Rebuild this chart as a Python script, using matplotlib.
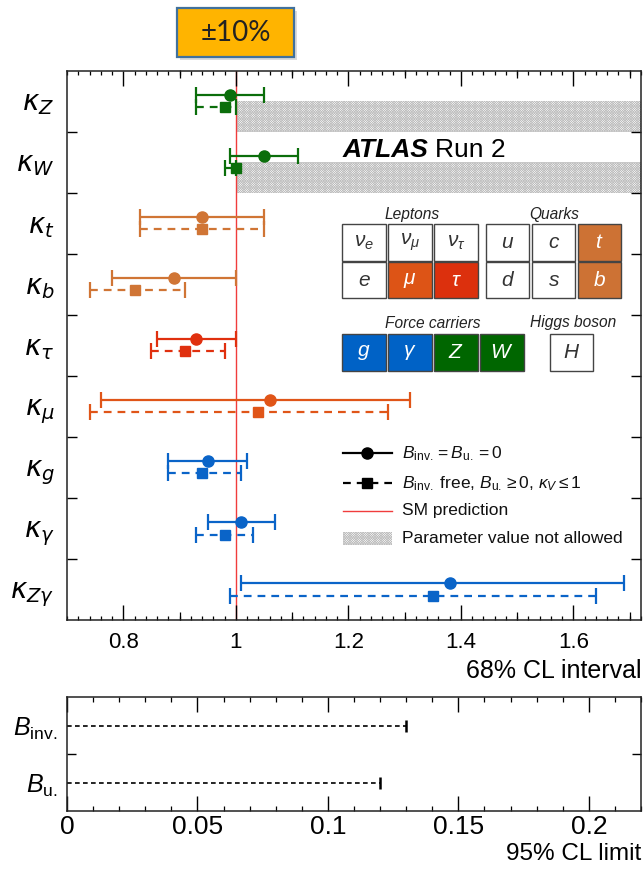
import numpy as np
import matplotlib.pyplot as plt
from matplotlib.patches import Rectangle
from matplotlib.lines import Line2D
from matplotlib.ticker import MultipleLocator, FuncFormatter

plt.rcParams['font.family'] = ['Liberation Sans', 'DejaVu Sans']
plt.rcParams['mathtext.fontset'] = 'custom'
plt.rcParams['mathtext.rm'] = 'Liberation Sans'
plt.rcParams['mathtext.it'] = 'Liberation Sans:italic'
plt.rcParams['mathtext.bf'] = 'Liberation Sans:bold'
plt.rcParams['hatch.linewidth'] = 0.5

# coupling modifiers, top to bottom
couplings = [r'$\kappa_{Z}$', r'$\kappa_{W}$', r'$\kappa_{t}$', r'$\kappa_{b}$',
             r'$\kappa_{\tau}$', r'$\kappa_{\mu}$', r'$\kappa_{g}$',
             r'$\kappa_{\gamma}$', r'$\kappa_{Z\gamma}$']
colors = ['#0b6e0b', '#0b6e0b', '#d07535', '#d07535', '#e0300f',
          '#e05518', '#0a64c8', '#0a64c8', '#0a64c8']

# fit with B_inv = B_u = 0 (68% CL)
fit1_val = [0.99, 1.05, 0.94, 0.89, 0.93, 1.06, 0.95, 1.01, 1.38]
fit1_lo  = [0.93, 0.99, 0.83, 0.78, 0.86, 0.76, 0.88, 0.95, 1.01]
fit1_hi  = [1.05, 1.11, 1.05, 1.00, 1.00, 1.31, 1.02, 1.07, 1.69]

# fit with B_inv free, B_u >= 0, kappa_V <= 1 (68% CL)
fit2_val = [0.98, 1.00, 0.94, 0.82, 0.91, 1.04, 0.94, 0.98, 1.35]
fit2_lo  = [0.93, 0.98, 0.83, 0.74, 0.85, 0.74, 0.88, 0.93, 0.99]
fit2_hi  = [1.00, 1.00, 1.05, 0.91, 0.98, 1.27, 1.01, 1.03, 1.64]

# rows where kappa_V <= 1 forbids values above the SM
bounded = [r'$\kappa_{Z}$', r'$\kappa_{W}$']

# branching ratio limits (95% CL)
br_names  = [r'$B_{\mathrm{inv.}}$', r'$B_{\mathrm{u.}}$']
br_limits = [0.13, 0.12]

xmin, xmax = 0.7, 1.72
n = len(couplings)
hatch_col = '#bdbdbd'

fig = plt.figure(figsize=(6.44, 8.73), dpi=100)
W, H = 644.0, 873.0
ax = fig.add_axes([67 / W, 253 / H, 574 / W, 549.5 / H])

ax.axvline(1.0, color='#f03c3c', lw=1.0, zorder=1)

for i in range(n):
    yc = n - 0.5 - i
    c = colors[i]
    e1 = ax.errorbar(fit1_val[i], yc + 0.1,
                     xerr=[[fit1_val[i] - fit1_lo[i]], [fit1_hi[i] - fit1_val[i]]],
                     fmt='o', color=c, ms=8, lw=1.6, capsize=6, capthick=1.6, zorder=3)
    e2 = ax.errorbar(fit2_val[i], yc - 0.1,
                     xerr=[[fit2_val[i] - fit2_lo[i]], [fit2_hi[i] - fit2_val[i]]],
                     fmt='s', color=c, ms=7.5, lw=1.6, capsize=6, capthick=1.6, zorder=3)
    e2[2][0].set_linestyle((0, (3.5, 2.7)))
    if couplings[i] in bounded:
        ax.fill_betweenx([yc - 0.5, yc], 1.0, xmax, facecolor='white',
                         edgecolor=hatch_col, hatch='x' * 14, lw=0, zorder=0)

ax.set_xlim(xmin, xmax)
ax.set_ylim(0, n)
ax.xaxis.set_major_locator(MultipleLocator(0.2))
ax.xaxis.set_minor_locator(MultipleLocator(0.02))
ax.xaxis.set_major_formatter(FuncFormatter(lambda v, p: '%g' % round(v, 2)))
ax.set_yticks(np.arange(1, n))
ax.set_yticklabels([])
ax.set_yticks(np.arange(n) + 0.5, couplings[::-1], minor=True)
for lab in ax.get_yticklabels(minor=True):
    lab.set_math_fontfamily('dejavusans')
ax.tick_params(axis='x', which='major', direction='in', length=10.8, width=1.0,
               top=True, labelsize=16, pad=9)
ax.tick_params(axis='x', which='minor', direction='in', length=2.9, width=0.9, top=True)
ax.tick_params(axis='y', which='major', direction='in', length=7.5, width=1.0, right=True)
ax.tick_params(axis='y', which='minor', length=0, labelsize=20, pad=9)
for side in ('bottom', 'top'):
    sec = ax.secondary_xaxis(side)
    sec.set_xticks(np.arange(0.9, 1.75, 0.2))
    sec.tick_params(direction='in', length=5.8, width=0.9, labelbottom=False, labeltop=False)
    sec.spines[side].set_visible(False)
for s in ax.spines.values():
    s.set_linewidth(1.1)
    s.set_color('#222222')
ax.set_xlabel('68% CL interval', loc='right', fontsize=18, labelpad=4)

# lower panel: invisible / undetected branching ratios
ax2 = fig.add_axes([67 / W, 62 / H, 574 / W, 114 / H])
for j, lim in enumerate(br_limits):
    yb = len(br_limits) - 0.5 - j
    ax2.hlines(yb, 0, lim, color='black', lw=1.2, linestyles=(0, (2.8, 2.0)))
    ax2.plot(lim, yb, marker='|', color='black', ms=8, mew=1.8)
ax2.set_xlim(0, 0.22)
ax2.set_ylim(0, len(br_limits))
ax2.xaxis.set_major_locator(MultipleLocator(0.05))
ax2.xaxis.set_minor_locator(MultipleLocator(0.01))
ax2.xaxis.set_major_formatter(FuncFormatter(lambda v, p: '%g' % round(v, 3)))
ax2.set_yticks([1])
ax2.set_yticklabels([])
ax2.set_yticks(np.arange(len(br_limits)) + 0.5, br_names[::-1], minor=True)
ax2.tick_params(axis='x', which='major', direction='in', length=10.8, width=1.0,
                top=True, labelsize=19, pad=3)
ax2.tick_params(axis='x', which='minor', direction='in', length=3.6, width=0.9, top=True)
ax2.tick_params(axis='y', which='major', direction='in', length=6.5, width=1.0, right=True)
ax2.tick_params(axis='y', which='minor', length=0, labelsize=18, pad=7)
for s in ax2.spines.values():
    s.set_linewidth(1.1)
    s.set_color('#222222')
ax2.set_xlabel('95% CL limit', loc='right', fontsize=17.5, labelpad=3)

# overlay in pixel coordinates for the labels, particle table and legend
ov = fig.add_axes([0, 0, 1, 1], zorder=5)
ov.set_xlim(0, W)
ov.set_ylim(H, 0)
ov.axis('off')

# highlight box
ov.add_patch(Rectangle((180, 11), 117, 49, facecolor='#999999', alpha=0.35, lw=0))
ov.add_patch(Rectangle((177, 8), 117, 49, facecolor='#ffb400', edgecolor='#41719c', lw=1.6))
ov.text(235.5, 33, '±10%', family='Lato', fontsize=20, color='#222222',
        ha='center', va='center')

ov.text(343, 157, 'ATLAS', fontsize=19, fontweight='bold', fontstyle='italic',
        color='black', ha='left', va='baseline')
ov.text(435, 157, 'Run 2', fontsize=19, color='black', ha='left', va='baseline')

# particle table
bw, bh = 43.3, 36.7
white, grey_txt = 'white', '#333333'
tables = [
    # (x0 of first box, y0, symbols, fills)
    (342.3, 224.0, [r'$\nu_e$', r'$\nu_\mu$', r'$\nu_\tau$'], [white, white, white]),
    (342.3, 261.7, [r'$e$', r'$\mu$', r'$\tau$'], [white, '#dd5416', '#dc300d']),
    (486.0, 224.0, [r'$u$', r'$c$', r'$t$'], [white, white, '#cd7234']),
    (486.0, 261.7, [r'$d$', r'$s$', r'$b$'], [white, white, '#cd7234']),
    (342.3, 334.0, [r'$g$', r'$\gamma$', r'$Z$', r'$W$'],
     ['#0062c6', '#0062c6', '#006600', '#006600']),
    (549.7, 334.0, [r'$H$'], [white]),
]
for x0, y0, syms, fills in tables:
    for k, (sym, fc) in enumerate(zip(syms, fills)):
        bx = x0 + k * 46.0
        ov.add_patch(Rectangle((bx, y0), bw, bh, facecolor=fc, edgecolor='#444444', lw=1.0))
        ov.text(bx + bw / 2, y0 + bh / 2, sym, fontsize=15, ha='center', va='center',
                color=grey_txt if fc == white else 'white')

for txt, x, y in [('Leptons', 412, 214), ('Quarks', 554, 214),
                  ('Force carriers', 433, 323), ('Higgs boson', 573, 323)]:
    ov.text(x, y, txt, fontsize=11.2, fontstyle='italic', color='#222222',
            ha='center', va='center')

# legend
lx0, lx1, tx = 342.7, 392.0, 401.7
ov.add_line(Line2D([lx0, lx1], [453.3, 453.3], color='black', lw=1.6))
ov.plot((lx0 + lx1) / 2, 453.3, 'o', color='black', ms=8)
ov.add_line(Line2D([lx0, lx1], [483.3, 483.3], color='black', lw=1.6,
                   linestyle=(0, (3.5, 2.7))))
ov.plot((lx0 + lx1) / 2, 483.3, 's', color='black', ms=7.5)
ov.add_line(Line2D([lx0, lx1], [510.7, 510.7], color='#f03c3c', lw=1.0))
ov.add_patch(Rectangle((lx0, 531.7), lx1 - lx0, 13.3, facecolor='white',
                       edgecolor=hatch_col, hatch='x' * 14, lw=0))
leg_txt = [r'$B_{\mathrm{inv.}} = B_{\mathrm{u.}} = 0$',
           r'$B_{\mathrm{inv.}}$ free, $B_{\mathrm{u.}} \geq 0$, $\kappa_V \leq 1$',
           'SM prediction', 'Parameter value not allowed']
for t, y in zip(leg_txt, [453.3, 483.3, 510.7, 538.3]):
    ov.text(tx, y, t, fontsize=12.5, color='#111111', ha='left', va='center')

fig.savefig('out.png', dpi=100)
